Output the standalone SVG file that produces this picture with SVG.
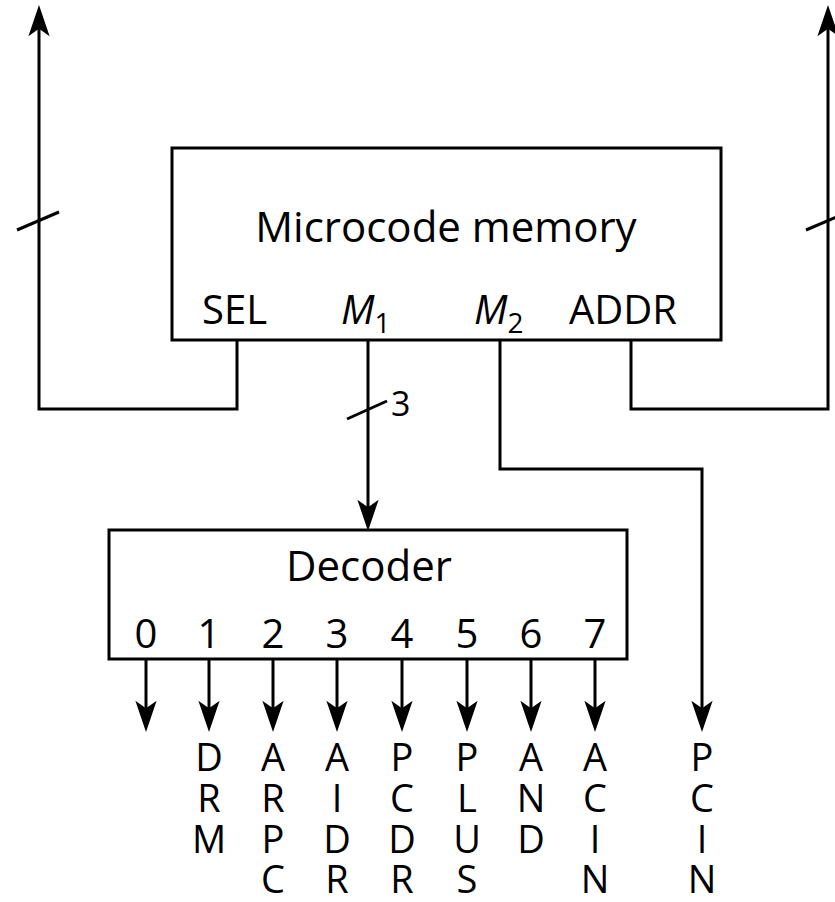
<svg xmlns="http://www.w3.org/2000/svg" width="835" height="902" viewBox="0 0 835 902">
<style>
.box{fill:#fff;stroke:#000;stroke-width:3}
.wire{fill:none;stroke:#000;stroke-width:3;stroke-linejoin:miter}
.arr{marker-end:url(#ah)}
text{font-family:"Open Sans","Noto Sans","DejaVu Sans",sans-serif;fill:#000}
.big{font-size:42px;text-anchor:middle}
.pin{font-size:40px}
.dig{font-size:40px;text-anchor:middle}
.lbl{font-size:38px;text-anchor:middle}
.it{font-style:italic}
</style>
<defs>
<marker id="ah" markerUnits="userSpaceOnUse" markerWidth="40" markerHeight="30" viewBox="-20 -12 32 24" refX="0" refY="0" orient="auto" overflow="visible">
<path d="M8,0 L-17,-8.5 L-11,0 L-17,8.5 Z" fill="#000"/>
</marker>
</defs>
<g id="connectors">
<path class="wire arr" d="M237,341 V409 H39 V15"/>
<path class="wire arr" d="M631,341 V409 H828 V15"/>
<path class="wire arr" d="M368,341 V521"/>
<path class="wire arr" d="M500,341 V469 H702 V722"/>
<path class="wire arr" d="M146,660 V722"/>
<path class="wire arr" d="M209,660 V722"/>
<path class="wire arr" d="M273,660 V722"/>
<path class="wire arr" d="M337,660 V722"/>
<path class="wire arr" d="M402,660 V722"/>
<path class="wire arr" d="M467,660 V722"/>
<path class="wire arr" d="M531,660 V722"/>
<path class="wire arr" d="M595,660 V722"/>
<line class="wire" x1="17" y1="230" x2="59" y2="212"/>
<line class="wire" x1="806" y1="230" x2="848" y2="212"/>
<line class="wire" x1="347" y1="419" x2="387" y2="401"/>
<text x="391" y="416" style="font-size:34px">3</text>
</g>
<g id="microcode-memory">
<rect class="box" x="172" y="148" width="549" height="192"/>
<text class="big" x="446" y="242">Microcode memory</text>
<text class="pin" x="202" y="324">SEL</text>
<text class="pin it" x="341" y="324">M<tspan style="font-size:28px;font-style:normal" dy="9">1</tspan></text>
<text class="pin it" x="474" y="324">M<tspan style="font-size:28px;font-style:normal" dy="9">2</tspan></text>
<text class="pin" x="569" y="324">ADDR</text>
</g>
<g id="decoder">
<rect class="box" x="109" y="530" width="518" height="129"/>
<text class="big" x="369" y="581">Decoder</text>
<text class="dig" x="146" y="648">0</text>
<text class="dig" x="209" y="648">1</text>
<text class="dig" x="273" y="648">2</text>
<text class="dig" x="337" y="648">3</text>
<text class="dig" x="402" y="648">4</text>
<text class="dig" x="467" y="648">5</text>
<text class="dig" x="531" y="648">6</text>
<text class="dig" x="595" y="648">7</text>
</g>
<g id="signal-labels">
<text class="lbl" y="771"><tspan x="209">D</tspan><tspan x="209" dy="41">R</tspan><tspan x="209" dy="41">M</tspan></text>
<text class="lbl" y="771"><tspan x="273">A</tspan><tspan x="273" dy="41">R</tspan><tspan x="273" dy="41">P</tspan><tspan x="273" dy="40">C</tspan></text>
<text class="lbl" y="771"><tspan x="337">A</tspan><tspan x="337" dy="41">I</tspan><tspan x="337" dy="41">D</tspan><tspan x="337" dy="40">R</tspan></text>
<text class="lbl" y="771"><tspan x="402">P</tspan><tspan x="402" dy="41">C</tspan><tspan x="402" dy="41">D</tspan><tspan x="402" dy="40">R</tspan></text>
<text class="lbl" y="771"><tspan x="467">P</tspan><tspan x="467" dy="41">L</tspan><tspan x="467" dy="41">U</tspan><tspan x="467" dy="40">S</tspan></text>
<text class="lbl" y="771"><tspan x="531">A</tspan><tspan x="531" dy="41">N</tspan><tspan x="531" dy="41">D</tspan></text>
<text class="lbl" y="771"><tspan x="595">A</tspan><tspan x="595" dy="41">C</tspan><tspan x="595" dy="41">I</tspan><tspan x="595" dy="40">N</tspan></text>
<text class="lbl" y="771"><tspan x="702">P</tspan><tspan x="702" dy="41">C</tspan><tspan x="702" dy="41">I</tspan><tspan x="702" dy="40">N</tspan></text>
</g>
</svg>
